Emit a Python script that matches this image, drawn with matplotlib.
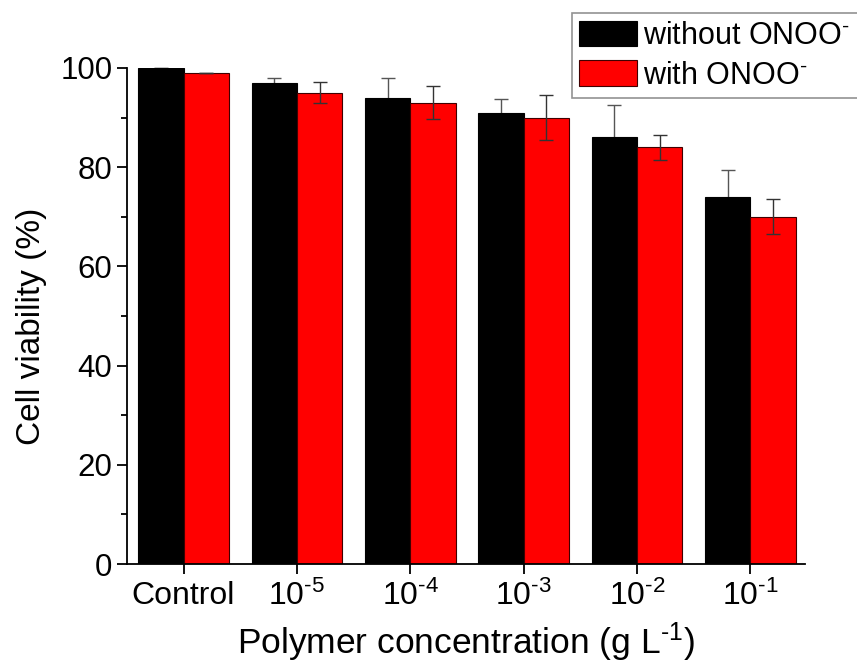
import numpy as np
from matplotlib import pyplot as plt
from matplotlib.ticker import MultipleLocator

plt.rcParams['font.family'] = ['Liberation Sans', 'DejaVu Sans']
plt.rcParams['mathtext.fontset'] = 'custom'
plt.rcParams['mathtext.rm'] = 'Liberation Sans'
plt.rcParams['mathtext.it'] = 'Liberation Sans'

# data
labels = ['Control', r'10$^{\text{-5}}$', r'10$^{\text{-4}}$', r'10$^{\text{-3}}$',
          r'10$^{\text{-2}}$', r'10$^{\text{-1}}$']
without_onoo = [100, 97, 94, 91, 86, 74]
without_err = [0, 1.0, 3.9, 2.8, 6.5, 5.5]
with_onoo = [99, 95, 93, 90, 84, 70]
with_err = [0, 2.1, 3.3, 4.5, 2.5, 3.5]

x = np.arange(len(labels))
w = 0.4

fig = plt.figure(figsize=(8.57, 6.66), dpi=100)
ax = fig.add_axes([0.148, 0.153, 0.791, 0.745])

# black bars' error bars sit behind the bars, so only the upper half shows
ax.errorbar(x - w / 2, without_onoo, yerr=without_err, fmt='none', ecolor='#555555',
            elinewidth=1, capsize=5, capthick=1, clip_on=False, zorder=1)
ax.bar(x - w / 2, without_onoo, w, color='black', edgecolor='black', linewidth=0.8,
       label=r'without ONOO$^{\text{-}}$', zorder=2)
ax.bar(x + w / 2, with_onoo, w, color='#ff0000', edgecolor='#400000', linewidth=0.8,
       label=r'with ONOO$^{\text{-}}$', zorder=2)
ax.errorbar(x + w / 2, with_onoo, yerr=with_err, fmt='none', ecolor='#333333',
            elinewidth=1, capsize=5, capthick=1, clip_on=False, zorder=3)

ax.set_xlim(-0.5, 5.48)
ax.set_ylim(0, 100)
ax.set_xticks(x)
ax.set_xticklabels(labels, fontsize=23)
ax.yaxis.set_major_locator(MultipleLocator(20))
ax.yaxis.set_minor_locator(MultipleLocator(10))
ax.tick_params(axis='y', labelsize=22.5, width=1.3, length=7, direction='out')
ax.tick_params(axis='y', which='minor', width=1.3, length=4)
ax.tick_params(axis='x', width=1.3, length=7, direction='out', pad=5)

for s in ['top', 'right']:
    ax.spines[s].set_visible(False)
for s in ['left', 'bottom']:
    ax.spines[s].set_linewidth(1.3)

ax.set_ylabel('Cell viability (%)', fontsize=24)
ax.yaxis.set_label_coords(-0.118, 0.48)
ax.set_xlabel(r'Polymer concentration (g L$^{\text{-1}}$)', fontsize=25.5, labelpad=6)

leg = fig.legend(loc='upper left', bbox_to_anchor=(0.667, 0.98), fontsize=22,
                 frameon=True, fancybox=False, edgecolor='#777777',
                 handlelength=1.9, handleheight=0.9, handletextpad=0.2,
                 borderpad=0.25, labelspacing=0.3, borderaxespad=0)
leg.get_frame().set_linewidth(1.2)

fig.savefig('out.png', dpi=100)
